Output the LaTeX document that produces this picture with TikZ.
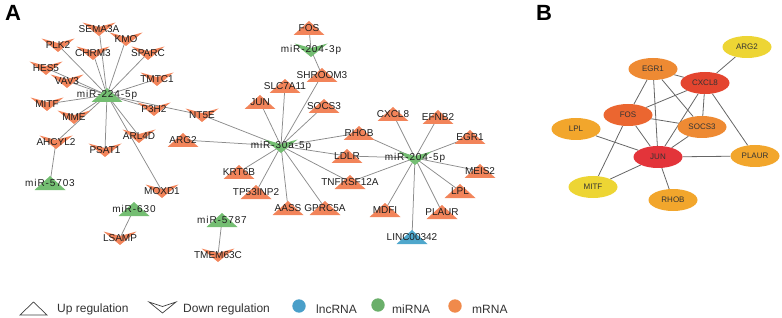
\documentclass[tikz,border=0pt]{standalone}
\usepackage{fontspec}
\setmainfont{Liberation Sans}
\newfontfamily\mirfont[LetterSpace=9]{Liberation Sans}
\usetikzlibrary{shapes.geometric,backgrounds}
\definecolor{mrna}{HTML}{F2845A}
\definecolor{mirna}{HTML}{74BE72}
\definecolor{lnc}{HTML}{4FA7CC}
\definecolor{txt}{HTML}{1E1E1E}
\definecolor{edgec}{HTML}{8C8C8C}
\definecolor{legblue}{HTML}{4A9FC9}
\definecolor{leggreen}{HTML}{6AAF6A}
\definecolor{legorange}{HTML}{F08A4B}
\definecolor{cRed}{HTML}{E3343A}
\definecolor{cRedO}{HTML}{E4452F}
\definecolor{cFos}{HTML}{EB6630}
\definecolor{cOr}{HTML}{EE8A33}
\definecolor{cYO}{HTML}{F2A62C}
\definecolor{cYe}{HTML}{EDD534}
\tikzset{
  shp/.style={inner sep=0pt,minimum width=35pt,minimum height=15pt,text=txt,font=\fontsize{10}{12}\selectfont},
  upsh/.style={shp,path picture={\fill[#1] ([xshift=-15.5pt,yshift=-7pt]path picture bounding box.center) -- ([yshift=7pt]path picture bounding box.center) -- ([xshift=15.5pt,yshift=-7pt]path picture bounding box.center) -- cycle;}},
  dnsh/.style={shp,path picture={\fill[#1] ([xshift=-16.5pt,yshift=6.5pt]path picture bounding box.center) -- ([yshift=2pt]path picture bounding box.center) -- ([xshift=16.5pt,yshift=6.5pt]path picture bounding box.center) -- ([yshift=-7pt]path picture bounding box.center) -- cycle;}},
  upm/.style={upsh=mrna},
  dnm/.style={dnsh=mrna},
  upmi/.style={upsh=mirna,font=\mirfont\fontsize{10}{12}\selectfont},
  dnmi/.style={dnsh=mirna,font=\mirfont\fontsize{10}{12}\selectfont},
  uplnc/.style={upsh=lnc},
  edge/.style={draw=edgec,line width=0.75pt},
  bedge/.style={draw=black!60,line width=0.8pt},
  bn/.style={ellipse,minimum width=49pt,minimum height=22pt,inner sep=0pt,text=black!80,font=\fontsize{8}{9}\selectfont},
  leg/.style={text=black!80,font=\fontsize{12}{14}\selectfont,anchor=west,inner sep=0pt},
  panel/.style={font=\bfseries\fontsize{22}{24}\selectfont,text=black,inner sep=0pt}
}
\begin{document}
\begin{tikzpicture}[x=1pt,y=-1pt]
\useasboundingbox (0,0) rectangle (782,318);
\node[panel] (pA) at (13,13) {A};
\node[panel] (pB) at (544,13) {B};
% ---- panel A nodes
\node[dnm] (SEMA3A) at (99,29) {SEMA3A};
\node[dnm] (KMO) at (126,39) {KMO};
\node[dnm] (PLK2) at (58,45) {PLK2};
\node[dnm] (CHRM3) at (93,53) {CHRM3};
\node[dnm] (SPARC) at (148,53) {SPARC};
\node[dnm] (HES5) at (46,68) {HES5};
\node[dnm] (VAV3) at (67,81) {VAV3};
\node[dnm] (TMTC1) at (157,79) {TMTC1};
\node[upmi] (m224) at (107,95) {miR-224-5p};
\node[dnm] (MITF) at (47,104) {MITF};
\node[dnm] (P3H2) at (154,109) {P3H2};
\node[dnm] (MME) at (74,117) {MME};
\node[dnm] (NT5E) at (202,115) {NT5E};
\node[dnm] (AHCYL2) at (56,142) {AHCYL2};
\node[dnm] (PSAT1) at (105,150) {PSAT1};
\node[dnm] (ARL4D) at (139,136) {ARL4D};
\node[upm] (ARG2) at (183,140) {ARG2};
\node[upmi] (m5703) at (50,183) {miR-5703};
\node[dnm] (MOXD1) at (162,191) {MOXD1};
\node[upmi] (m630) at (134,209) {miR-630};
\node[dnm] (LSAMP) at (120,238) {LSAMP};
\node[upm] (FOS) at (309,28) {FOS};
\node[dnmi] (m2043) at (311,50) {miR-204-3p};
\node[upm] (SHROOM3) at (322,75) {SHROOM3};
\node[upm] (SLC7A11) at (285,86) {SLC7A11};
\node[upm] (JUN) at (260,102) {JUN};
\node[upm] (SOCS3) at (324,106) {SOCS3};
\node[upm] (RHOB) at (359,133) {RHOB};
\node[dnmi] (m30a) at (281,146) {miR-30a-5p};
\node[upm] (LDLR) at (347,156) {LDLR};
\node[upm] (KRT6B) at (239,172) {KRT6B};
\node[upm] (TNFRSF12A) at (350,182) {TNFRSF12A};
\node[upm] (TP53INP2) at (256,192) {TP53INP2};
\node[upm] (AASS) at (288,208) {AASS};
\node[upm] (GPRC5A) at (325,208) {GPRC5A};
\node[upmi] (m5787) at (222,220) {miR-5787};
\node[dnm] (TMEM63C) at (218,255) {TMEM63C};
\node[upm] (CXCL8) at (393,114) {CXCL8};
\node[upm] (EFNB2) at (438,117) {EFNB2};
\node[upm] (EGR1) at (470,137) {EGR1};
\node[dnmi] (m2045) at (415,158) {miR-204-5p};
\node[upm] (MEIS2) at (480,171) {MEIS2};
\node[upm] (LPL) at (460,191) {LPL};
\node[upm] (MDFI) at (385,210) {MDFI};
\node[upm] (PLAUR) at (442,212) {PLAUR};
\node[uplnc] (LINC) at (412,237) {LINC00342};
% ---- panel B nodes
\node[bn,fill=cYe] (bARG2) at (747,47) {ARG2};
\node[bn,fill=cOr] (bEGR1) at (653,69) {EGR1};
\node[bn,fill=cRedO] (bCXCL8) at (705,83) {CXCL8};
\node[bn,fill=cFos] (bFOS) at (628,115) {FOS};
\node[bn,fill=cYO] (bLPL) at (576,129) {LPL};
\node[bn,fill=cOr] (bSOCS3) at (702,127) {SOCS3};
\node[bn,fill=cRed] (bJUN) at (658,157) {JUN};
\node[bn,fill=cYO] (bPLAUR) at (755,156) {PLAUR};
\node[bn,fill=cYe] (bMITF) at (593,187) {MITF};
\node[bn,fill=cYO] (bRHOB) at (673,200) {RHOB};
% ---- edges
\begin{pgfonlayer}{background}
\foreach \t in {SEMA3A,KMO,PLK2,CHRM3,SPARC,HES5,VAV3,TMTC1,MITF,P3H2,NT5E,MME,AHCYL2,PSAT1,ARL4D,MOXD1}
  \draw[edge] (m224.center) -- (\t.center);
\draw[edge] (AHCYL2.center) -- (m5703.center);
\draw[edge] (m630.center) -- (LSAMP.center);
\draw[edge] (m5787.center) -- (TMEM63C.center);
\draw[edge] (m2043.center) -- (FOS.center);
\draw[edge] (m2043.center) -- (SHROOM3.center);
\foreach \t in {NT5E,ARG2,JUN,SLC7A11,SHROOM3,SOCS3,RHOB,LDLR,TNFRSF12A,KRT6B,TP53INP2,AASS,GPRC5A}
  \draw[edge] (m30a.center) -- (\t.center);
\foreach \t in {RHOB,LDLR,TNFRSF12A,CXCL8,EFNB2,EGR1,MEIS2,LPL,PLAUR,MDFI,LINC}
  \draw[edge] (m2045.center) -- (\t.center);
\foreach \a/\b in {bARG2/bCXCL8,bEGR1/bCXCL8,bEGR1/bFOS,bEGR1/bJUN,bEGR1/bSOCS3,bCXCL8/bFOS,bCXCL8/bSOCS3,bCXCL8/bJUN,bCXCL8/bPLAUR,bFOS/bSOCS3,bFOS/bJUN,bFOS/bMITF,bLPL/bJUN,bSOCS3/bJUN,bJUN/bPLAUR,bJUN/bMITF,bJUN/bRHOB}
  \draw[bedge] (\a) -- (\b);
\end{pgfonlayer}
% ---- legend
\draw[black!75,line width=0.7pt] (20,315) -- (33.5,302) -- (47,315) -- cycle;
\node[leg] (lup) at (57,309) {Up regulation};
\draw[black!75,line width=0.7pt] (149,302) -- (162.5,306.5) -- (176,302) -- (162.5,313) -- cycle;
\node[leg] (ldn) at (183,309) {Down regulation};
\fill[legblue] (299,306) circle (6.7pt);
\node[leg] (llnc) at (316,309) {lncRNA};
\fill[leggreen] (378,305) circle (6.7pt);
\node[leg] (lmi) at (392,309) {miRNA};
\fill[legorange] (455,306) circle (6.7pt);
\node[leg] (lm) at (472,309) {mRNA};
\end{tikzpicture}
\end{document}
